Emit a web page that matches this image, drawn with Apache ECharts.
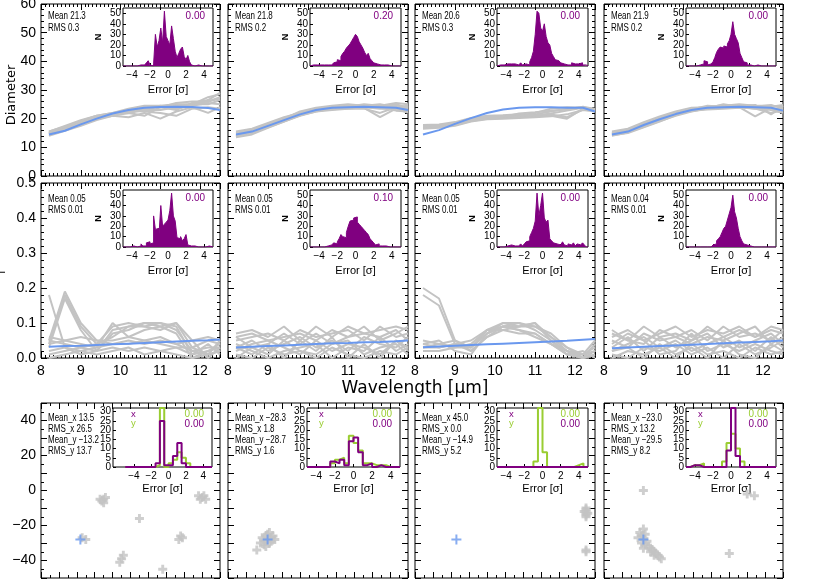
<!DOCTYPE html>
<html><head><meta charset="utf-8">
<script src="https://cdn.jsdelivr.net/npm/echarts@6/dist/echarts.min.js"></script>
<style>html,body{margin:0;padding:0;background:#fff}#c{width:817px;height:584px}</style>
</head><body><div id="c"></div>
<script>
// ---------------- DATA ----------------
const WAVELENGTH = [8.2,8.6,9.0,9.4,9.8,10.2,10.6,11.0,11.4,11.8,12.2,12.5];
const HIST_EDGES = [-5.0,-4.8,-4.6,-4.4,-4.2,-4.0,-3.8,-3.6,-3.4,-3.2,-3.0,-2.8,-2.6,-2.4,-2.2,-2.0,-1.8,-1.6,-1.4,-1.2,-1.0,-0.8,-0.6,-0.4,-0.2,0.0,0.2,0.4,0.6,0.8,1.0,1.2,1.4,1.6,1.8,2.0,2.2,2.4,2.6,2.8,3.0,3.2,3.4,3.6,3.8,4.0,4.2,4.4,4.6,4.8];
const POS_EDGES = [-5.0,-4.5,-4.0,-3.5,-3.0,-2.5,-2.0,-1.5,-1.0,-0.5,0.0,0.5,1.0,1.5,2.0,2.5,3.0,3.5,4.0,4.5];
const HIST_RIGHT = 5.0;

// Row 1: diameter
const DIAM_BLUE_1 = [14.5,15.8,18.0,20.0,21.8,23.0,23.8,24.1,24.2,24.1,23.7,23.0];
const DIAM_GREY_1 = [
 [14.8,16.5,18.5,20.5,21.5,22.5,23.5,24.0,24.5,25.0,26.0,27.0],
 [15.2,17.0,19.0,20.8,21.8,22.0,21.0,24.0,23.0,25.5,26.5,29.0],
 [14.5,16.0,18.0,20.0,21.0,20.5,22.0,20.0,22.5,24.0,22.0,24.0],
 [15.5,17.5,19.5,21.0,22.0,23.5,24.5,24.5,25.0,25.0,27.5,28.5],
 [14.0,15.8,17.5,19.5,21.0,22.0,23.0,23.0,24.0,25.0,25.0,26.5],
 [15.0,16.8,18.8,20.5,21.5,22.8,22.5,22.0,21.0,23.5,24.0,23.5],
 [14.8,16.5,18.5,20.3,21.2,22.2,23.2,24.5,23.5,24.5,25.5,25.0],
 [15.5,17.2,19.2,21.0,22.0,23.0,24.0,24.0,25.5,26.0,26.0,27.5]];
const DIAM_BLUE_2 = [14.5,15.5,17.5,19.5,21.5,23.0,23.8,24.0,24.2,24.0,23.8,23.0];
const DIAM_GREY_2 = [
 [14.0,15.0,17.0,19.0,21.0,22.5,23.5,23.5,24.0,23.5,23.5,22.5],
 [15.0,16.2,18.2,20.2,22.2,23.5,24.2,24.5,24.5,24.5,24.5,24.0],
 [13.5,14.5,16.8,19.0,21.2,23.0,23.5,24.0,23.8,20.5,23.5,22.0],
 [15.5,16.5,18.5,20.5,22.0,23.2,24.0,24.2,25.0,24.5,25.5,25.0],
 [14.2,15.8,17.8,19.8,21.8,22.8,23.2,23.8,24.0,23.8,22.8,22.5],
 [15.2,16.0,18.0,20.0,22.5,23.8,24.5,25.0,24.5,25.0,24.0,24.5],
 [14.8,15.2,17.2,19.2,21.2,22.5,23.0,23.5,23.5,22.0,24.0,23.5],
 [13.8,15.6,17.6,19.6,21.6,23.2,24.0,24.2,24.8,24.2,25.0,23.8]];
const DIAM_BLUE_3 = [14.5,16.0,18.2,20.2,22.0,23.2,23.8,24.0,24.0,23.8,23.8,22.5];
const DIAM_GREY_3 = [
 [17.0,17.2,18.0,19.5,20.2,20.5,20.5,20.8,21.0,20.0,23.5,23.0],
 [17.5,17.8,18.5,20.0,20.8,21.0,21.2,21.5,22.5,23.5,24.0,23.2],
 [16.8,17.0,17.8,19.2,20.0,20.2,20.5,21.0,21.8,22.8,23.8,23.5],
 [17.2,17.5,18.2,19.8,20.5,20.8,21.0,22.0,23.5,24.0,23.8,22.8],
 [17.8,18.0,18.8,20.2,21.0,21.2,21.5,21.2,21.5,20.5,23.2,23.0],
 [16.5,16.8,17.5,19.0,19.8,20.0,20.2,20.5,20.8,21.5,23.0,22.5],
 [17.4,17.6,18.4,19.6,20.4,20.6,21.8,22.2,22.8,23.2,24.2,23.4]];
const DIAM_BLUE_4 = [14.5,15.5,17.8,19.8,21.6,23.0,23.8,24.0,24.2,24.0,23.8,22.8];
const DIAM_GREY_4 = [
 [14.0,15.2,17.2,19.2,21.0,22.5,23.5,23.8,24.0,23.5,23.5,22.5],
 [15.0,16.0,18.5,20.5,22.2,23.5,24.2,24.5,25.0,24.5,24.5,24.0],
 [14.5,15.8,17.5,19.5,21.5,23.2,24.5,24.2,24.0,20.8,23.8,23.0],
 [15.5,16.5,18.8,20.8,22.5,23.8,24.0,24.8,24.5,24.8,21.5,24.5],
 [14.2,15.0,17.0,19.0,21.2,22.8,23.2,23.5,23.8,23.8,23.0,22.0],
 [15.2,16.2,18.2,20.2,22.0,23.2,24.0,24.2,24.5,24.2,24.8,23.5],
 [14.8,15.6,18.0,20.0,21.8,22.6,23.6,25.0,24.2,23.5,22.0,23.0],
 [14.4,15.4,17.6,19.6,21.4,23.0,23.8,24.0,24.8,24.0,24.2,24.8]];

// Row 2: f
const F_BLUE_1 = [0.032,0.034,0.035,0.037,0.039,0.041,0.043,0.045,0.047,0.049,0.051,0.053];
const F_GREY_1 = [
 [0.05,0.19,0.10,0.05,0.04,0.05,0.04,0.05,0.04,0.02,0.03,0.03],
 [0.18,0.03,0.02,0.03,0.04,0.04,0.05,0.04,0.03,0.03,0.05,0.04],
 [0.03,0.17,0.08,0.02,0.08,0.09,0.10,0.09,0.10,0.03,0.01,0.02],
 [0.05,0.04,0.03,0.04,0.09,0.10,0.09,0.08,0.10,0.05,0.00,0.03],
 [0.01,0.02,0.03,0.02,0.07,0.08,0.10,0.10,0.08,0.02,0.01,0.05],
 [0.04,0.05,0.04,0.03,0.10,0.06,0.08,0.09,0.07,0.00,0.02,0.04],
 [0.02,0.03,0.01,0.02,0.03,0.02,0.03,0.02,0.01,0.00,0.01,0.02],
 [0.06,0.05,0.06,0.05,0.05,0.06,0.05,0.06,0.04,0.05,0.06,0.05],
 [0.00,0.01,0.02,0.01,0.02,0.03,0.01,0.02,0.03,0.01,0.04,0.01],
 [0.04,0.18,0.09,0.04,0.06,0.09,0.09,0.10,0.09,0.01,0.02,0.03]];
const F_BLUE_2 = [0.030,0.032,0.034,0.036,0.038,0.040,0.042,0.043,0.045,0.046,0.048,0.050];
const F_GREY_2 = [
 [0.07,0.08,0.06,0.09,0.05,0.09,0.06,0.09,0.07,0.08,0.09,0.08],
 [0.03,0.05,0.02,0.04,0.06,0.03,0.05,0.02,0.06,0.04,0.03,0.06],
 [0.01,0.00,0.03,0.01,0.02,0.00,0.03,0.01,0.00,0.02,0.01,0.03],
 [0.05,0.06,0.07,0.05,0.08,0.06,0.07,0.08,0.05,0.09,0.06,0.07],
 [0.02,0.04,0.05,0.03,0.01,0.05,0.02,0.04,0.03,0.01,0.05,0.02],
 [0.06,0.03,0.04,0.07,0.04,0.07,0.04,0.06,0.09,0.05,0.07,0.09],
 [0.04,0.02,0.00,0.02,0.03,0.04,0.00,0.03,0.02,0.06,0.02,0.04],
 [0.00,0.03,0.01,0.05,0.02,0.01,0.04,0.05,0.01,0.03,0.04,0.01],
 [0.06,0.07,0.05,0.06,0.07,0.05,0.08,0.06,0.07,0.06,0.08,0.05],
 [0.03,0.01,0.04,0.00,0.05,0.02,0.06,0.00,0.04,0.00,0.05,0.03]];
const F_BLUE_3 = [0.031,0.033,0.035,0.037,0.039,0.041,0.043,0.045,0.047,0.049,0.052,0.054];
const F_GREY_3 = [
 [0.20,0.17,0.05,0.03,0.07,0.09,0.08,0.07,0.04,0.01,0.00,0.02],
 [0.18,0.15,0.04,0.02,0.06,0.08,0.09,0.10,0.05,0.02,0.01,0.05],
 [0.04,0.03,0.04,0.05,0.08,0.09,0.08,0.06,0.04,0.02,0.00,0.01],
 [0.03,0.04,0.03,0.03,0.07,0.10,0.10,0.08,0.05,0.01,0.01,0.03],
 [0.05,0.04,0.05,0.02,0.06,0.09,0.09,0.09,0.06,0.03,0.00,0.04],
 [0.02,0.02,0.03,0.04,0.08,0.08,0.07,0.07,0.04,0.01,0.02,0.00],
 [0.04,0.05,0.02,0.01,0.07,0.09,0.10,0.09,0.07,0.03,0.01,0.02],
 [0.03,0.03,0.04,0.03,0.08,0.10,0.09,0.10,0.06,0.02,0.00,0.01]];
const F_BLUE_4 = [0.028,0.030,0.032,0.034,0.036,0.038,0.040,0.042,0.044,0.046,0.048,0.050];
const F_GREY_4 = [
 [0.06,0.08,0.05,0.07,0.09,0.06,0.08,0.07,0.09,0.06,0.08,0.07],
 [0.02,0.04,0.06,0.03,0.05,0.02,0.04,0.06,0.03,0.05,0.07,0.04],
 [0.00,0.02,0.01,0.03,0.00,0.04,0.01,0.02,0.00,0.03,0.01,0.02],
 [0.05,0.03,0.07,0.05,0.06,0.08,0.05,0.09,0.06,0.07,0.05,0.08],
 [0.03,0.06,0.02,0.06,0.03,0.05,0.07,0.03,0.05,0.02,0.06,0.03],
 [0.07,0.05,0.04,0.08,0.06,0.04,0.06,0.05,0.07,0.09,0.04,0.06],
 [0.01,0.00,0.03,0.02,0.04,0.01,0.03,0.00,0.04,0.01,0.03,0.05],
 [0.04,0.07,0.05,0.01,0.02,0.07,0.02,0.04,0.02,0.04,0.02,0.01],
 [0.08,0.05,0.09,0.06,0.07,0.05,0.09,0.06,0.08,0.06,0.09,0.08],
 [0.02,0.03,0.00,0.04,0.01,0.03,0.00,0.05,0.01,0.00,0.04,0.02]];

// Error histograms (counts per 0.2-sigma bin)
const HIST_DIAM_1 = [0,0,0,0,0,0,0,0,0,1, 2,1,0,3,5,1,0,2,30,18, 24,36,22,52,28,24,20,38,26,14, 8,12,16,18,9,6,10,4,1,0, 0,1,0,0,0,0,0,0,0,0];
const HIST_DIAM_2 = [0,1,1,1,1,1,1,1,1,1, 2,1,2,3,4,6,5,9,12,14, 17,19,21,24,27,30,28,23,20,17, 13,10,12,7,5,3,2,1,1,1, 1,0,1,0,0,0,0,0,0,0];
const HIST_DIAM_3 = [0,1,1,1,0,2,1,2,1,2, 3,1,2,3,1,2,3,1,4,8, 14,30,52,50,36,33,40,28,22,20, 12,9,6,5,4,3,2,3,1,2, 1,3,2,1,2,1,3,1,1,0];
const HIST_DIAM_4 = [0,0,0,0,1,0,1,1,0,2, 5,4,1,2,1,4,8,13,16,18, 17,19,18,21,24,30,42,30,26,22, 12,8,4,3,1,1,1,0,0,1, 0,0,1,0,0,0,0,0,0,0];
const HIST_F_1 = [0,0,0,0,0,1,1,0,0,1, 3,1,1,4,5,3,4,30,17,18, 12,40,20,22,24,26,35,52,30,25, 9,8,10,6,8,12,2,1,0,1, 0,0,0,0,0,0,0,1,0,0];
const HIST_F_2 = [0,0,0,0,0,0,0,0,0,1, 1,2,3,4,3,5,8,12,10,9, 14,20,25,26,28,29,24,22,20,18, 16,14,12,8,6,4,2,3,1,1, 2,1,0,0,0,0,0,0,0,0];
const HIST_F_3 = [0,0,0,0,0,1,1,2,1,1, 2,1,2,3,1,3,5,6,10,14, 18,25,52,30,40,52,28,24,26,8, 6,4,3,2,2,1,5,2,1,3, 2,1,4,1,3,2,1,4,2,0];
const HIST_F_4 = [0,0,0,0,0,0,0,0,0,0, 0,0,0,0,1,2,3,6,8,10, 14,18,20,26,32,38,50,34,28,18, 10,6,3,2,1,1,0,0,0,0, 0,0,0,0,0,0,0,0,0,0];
// Position error histograms (0.5-sigma bins)
const HIST_POSX_1 = [0,0,0,0,0,0,0,2,25,1,1,6,13,2,0,0,0,0,0,0];
const HIST_POSY_1 = [0,0,0,0,0,0,0,1,32,0,2,4,8,5,2,0,0,0,0,0];
const HIST_POSX_2 = [0,0,0,0,0,3,2,4,1,14,16,8,1,2,0,1,0,0,0,0];
const HIST_POSY_2 = [0,0,0,0,0,2,4,5,2,17,13,9,2,2,1,1,1,0,0,0];
const HIST_POSX_3 = [0,0,0,0,0,0,0,0,0,0,0,0,0,0,0,0,0,0,0,0];
const HIST_POSY_3 = [0,0,0,0,0,0,0,0,3,32,8,0,0,0,0,0,0,1,2,0];
const HIST_POSX_4 = [0,1,1,0,0,0,0,0,0,9,32,6,0,0,0,0,0,0,0,0];
const HIST_POSY_4 = [0,1,1,2,0,0,0,0,3,13,18,10,3,0,0,0,0,0,0,0];

// Row 3: fitted positions [x, y]
const POS_GREY_1 = [[-15,-5],[-16,-6],[-14,-4],[-15,-7],[-17,-5],[5,-16],[28,-26],[29,-27],[27,-28],[38,-3],[40,-4],[39,-5],[41,-3],[42,-5],[-4,-37],[-5,-39],[-6,-41],[18,-45],[-25,-28],[-27,-27]];
const POS_GREY_2 = [[-28,-28],[-26,-27],[-30,-29],[-29,-26],[-27,-30],[-25,-26],[-31,-27],[-28,-25],[-26,-29],[-30,-31],[-24,-28],[-32,-30],[-29,-32],[-34,-34],[-27,-24]];
const POS_GREY_3 = [[45,-10],[45,-11],[45,-12],[45,-13],[45,-14],[45,-15],[44,-12],[46,-13],[45,-34],[45,-35]];
const POS_GREY_4 = [[-28,0],[30,-2],[34,-3],[20,-36],[-28,-22],[-30,-24],[-29,-26],[-27,-25],[-31,-27],[-28,-28],[-26,-29],[-29,-30],[-27,-31],[-25,-32],[-24,-33],[-23,-34],[-22,-35],[-21,-36],[-20,-37],[-19,-38],[-22,-37],[-18,-39],[-24,-35],[-28,-33]];
const POS_TRUE = [[-28,-28],[-28,-28],[-27,-28],[-28,-28]];

// Texts
const STATS_ROW1 = [["Mean 21.3","RMS 0.3"],["Mean 21.8","RMS 0.2"],["Mean 20.6","RMS 0.3"],["Mean 21.9","RMS 0.2"]];
const STATS_ROW2 = [["Mean 0.05","RMS 0.01"],["Mean 0.05","RMS 0.01"],["Mean 0.05","RMS 0.01"],["Mean 0.04","RMS 0.01"]];
const STATS_ROW3 = [["Mean_x 13.5","RMS_x 26.5","Mean_y −13.2","RMS_y 13.7"],["Mean_x −28.3","RMS_x 1.8","Mean_y −28.7","RMS_y 1.6"],["Mean_x 45.0","RMS_x 0.0","Mean_y −14.9","RMS_y 5.2"],["Mean_x −23.0","RMS_x 13.2","Mean_y −29.5","RMS_y 8.2"]];
const INSET_VAL_ROW1 = ["0.00","0.20","0.00","0.00"];
const INSET_VAL_ROW2 = ["0.00","0.10","0.00","0.00"];
const INSET_VAL_ROW3 = [["0.00","0.00"],["0.00","0.00"],["0.00","0.00"],["0.00","0.00"]];
const X_TICKS_MAIN = [8,9,10,11,12];
const INSET_X_TICKS = [-4,-2,0,2,4];
const INSET_Y_TICKS = [0,10,20,30,40,50];
const INSET_Y_TICKS_POS = [0,5,10,15,20,25,30];
const INSET_Y_LABELS_POS_A = [0,10,20,30];
const INSET_Y_LABELS_POS_B = [5,15,25];
const POS_Y_TICKS = [-40,-20,0,20,40];

// ---------------- BUILD ----------------
const GREY = '#c3c3c3', BLUE = '#6a98ee', PURPLE = '#800080', GREEN = '#9acd32';
const F_MAIN = "'Liberation Sans', Arial, sans-serif";
const F_SMALL = "'Liberation Sans', Arial, sans-serif";
const cols = [{l:41,w:179},{l:228,w:180},{l:415,w:180},{l:604,w:179}];
const rows = [{t:4,h:172},{t:183,h:175},{t:403,h:175}];
const grid=[], xAxis=[], yAxis=[], series=[], graphic=[];
const minus = v => String(v).replace('-', '\u2212');
const PLUS_GREY = 'path://M3.4,0H6.6V3.4H10V6.6H6.6V10H3.4V6.6H0V3.4H3.4Z';
const PLUS_BLUE = 'path://M4,0H6V4H10V6H6V10H4V6H0V4H4Z';

function addGrid(b, bg){
  grid.push({left:b.l, top:b.t, width:b.w, height:b.h, show:true, borderColor:'#000', borderWidth:1,
    backgroundColor:bg||'transparent', containLabel:false, outerBoundsMode:'none'});
  return grid.length-1;
}
function ax(extra){
  return Object.assign({type:'value', axisLine:{show:false,onZero:false}, splitLine:{show:false}, silent:true}, extra);
}
function mainPanel(r,c){
  const gi = addGrid({l:cols[c].l, t:rows[r].t, w:cols[c].w, h:rows[r].h});
  const xr = r<2 ? {min:8,max:12.5,interval:1,minor:10} : {min:-50,max:50,interval:10,minor:2};
  const yr = r===0 ? {min:0,max:60,interval:10,minor:5} : r===1 ? {min:0,max:0.5,interval:0.1,minor:5} : {min:-50,max:50,interval:10,minor:2};
  const tick = {inside:true,length:6,lineStyle:{color:'#000',width:1}};
  const mtick = n => ({show:true,splitNumber:n,length:3,lineStyle:{color:'#000',width:1}});
  const xi = xAxis.length, yi = yAxis.length;
  xAxis.push(ax({gridIndex:gi,position:'bottom',min:xr.min,max:xr.max,interval:xr.interval,axisTick:tick,minorTick:mtick(xr.minor),
    axisLabel:{show:r===1,hideOverlap:false,fontSize:14,fontFamily:F_MAIN,color:'#000',margin:6,
      formatter:v => X_TICKS_MAIN.includes(v) ? String(v) : ''}}));
  xAxis.push(ax({gridIndex:gi,position:'top',min:xr.min,max:xr.max,interval:xr.interval,axisTick:tick,minorTick:mtick(xr.minor),axisLabel:{show:false}}));
  const yl = {show:c===0,hideOverlap:false,showMinLabel:true,showMaxLabel:true,fontSize:14,fontFamily:F_MAIN,color:'#000',margin:5};
  if(r===1) yl.formatter = v => v.toFixed(1);
  if(r===2){ yl.customValues = POS_Y_TICKS; yl.formatter = v => minus(v); }
  yAxis.push(ax({gridIndex:gi,position:'left',min:yr.min,max:yr.max,interval:yr.interval,axisTick:tick,minorTick:mtick(yr.minor),axisLabel:yl}));
  yAxis.push(ax({gridIndex:gi,position:'right',min:yr.min,max:yr.max,interval:yr.interval,axisTick:tick,minorTick:mtick(yr.minor),axisLabel:{show:false}}));
  return {xi, yi};
}
function insetPanel(box, xmin, ymax, yTicks, labelSets, withN, gap){
  const gi = addGrid(box, '#fff');
  const xi = xAxis.length, yi = yAxis.length;
  xAxis.push(ax({gridIndex:gi,position:'bottom',min:xmin,max:5,
    axisTick:{inside:true,length:3,customValues:INSET_X_TICKS,lineStyle:{color:'#000'}},
    axisLabel:{customValues:INSET_X_TICKS,formatter:v=>minus(v),fontSize:10,fontFamily:F_SMALL,color:'#000',margin:4,hideOverlap:false,showMinLabel:true,showMaxLabel:true},
    name:'Error [\u03c3]',nameLocation:'middle',nameGap:gap,nameTextStyle:{fontSize:11,fontFamily:F_SMALL,color:'#000'}}));
  labelSets.forEach((labels,k)=>{
    yAxis.push(ax({gridIndex:gi,position:'left',offset:0,min:0,max:ymax,
      axisTick:{show:k===0,inside:true,length:3,customValues:yTicks,lineStyle:{color:'#000'}},
      axisLabel:{customValues:labels,fontSize:10,fontFamily:F_SMALL,color:'#000',margin:2,hideOverlap:false,showMinLabel:true,showMaxLabel:true},
      name:(withN&&k===0)?'N':'',nameLocation:'middle',nameGap:20,nameRotate:90,nameTextStyle:{fontSize:9,fontFamily:F_SMALL,color:'#000',fontWeight:'bold'}}));
  });
  return {xi, yi};
}
function lineSeries(a, xs, ys, color, width, z){
  series.push({type:'line',xAxisIndex:a.xi,yAxisIndex:a.yi,data:xs.map((x,i)=>[x,ys[i]]),symbol:'none',
    lineStyle:{color,width},silent:true,animation:false,z,clip:true});
}
function histSeries(a, edges, counts, color, filled){
  const d = edges.map((e,i)=>[e,counts[i]]);
  d.push([HIST_RIGHT, counts[counts.length-1]]);
  const s = {type:'line',step:'end',xAxisIndex:a.xi,yAxisIndex:a.yi,data:d,symbol:'none',
    lineStyle:{color,width:filled?1:2},silent:true,animation:false,z:3,clip:true};
  if(filled) s.areaStyle = {color, opacity:1};
  series.push(s);
}
function txt(x,y,text,opt){
  graphic.push({type:'text',x,y,silent:true,rotation:opt.rot||0,scaleX:opt.sx||1,z:100,
    style:{text,fill:opt.color||'#000',fontSize:opt.size||9,fontFamily:opt.font||F_SMALL,fontWeight:opt.weight||'normal',
      textAlign:opt.align||'left',verticalAlign:'middle',textVerticalAlign:'middle'}});
}

const DIAM_BLUE=[DIAM_BLUE_1,DIAM_BLUE_2,DIAM_BLUE_3,DIAM_BLUE_4], DIAM_GREY=[DIAM_GREY_1,DIAM_GREY_2,DIAM_GREY_3,DIAM_GREY_4];
const F_BLUE=[F_BLUE_1,F_BLUE_2,F_BLUE_3,F_BLUE_4], F_GREY=[F_GREY_1,F_GREY_2,F_GREY_3,F_GREY_4];
const HIST_DIAM=[HIST_DIAM_1,HIST_DIAM_2,HIST_DIAM_3,HIST_DIAM_4], HIST_F=[HIST_F_1,HIST_F_2,HIST_F_3,HIST_F_4];
const HIST_POSX=[HIST_POSX_1,HIST_POSX_2,HIST_POSX_3,HIST_POSX_4], HIST_POSY=[HIST_POSY_1,HIST_POSY_2,HIST_POSY_3,HIST_POSY_4];
const POS_GREY=[POS_GREY_1,POS_GREY_2,POS_GREY_3,POS_GREY_4];
const SX = 0.8;

for(let c=0;c<4;c++){
  // Row 1 and 2
  [[DIAM_GREY,DIAM_BLUE,HIST_DIAM,STATS_ROW1,INSET_VAL_ROW1],[F_GREY,F_BLUE,HIST_F,STATS_ROW2,INSET_VAL_ROW2]].forEach((set,r)=>{
    const a = mainPanel(r,c);
    set[0][c].forEach(g=>lineSeries(a, WAVELENGTH, g, GREY, 2, 2));
    lineSeries(a, WAVELENGTH, set[1][c], BLUE, 2, 4);
    const box = {l:cols[c].l+82, w:cols[c].w-89, t:rows[r].t+(r===0?4:7), h:r===0?58:57};
    const ia = insetPanel(box, -5, 55, INSET_Y_TICKS, [INSET_Y_TICKS], true, 18);
    histSeries(ia, HIST_EDGES, set[2][c], PURPLE, true);
    const off = r===0 ? [12,24] : [16,27];
    txt(cols[c].l+7, rows[r].t+off[0], set[3][c][0], {size:10, sx:SX});
    txt(cols[c].l+7, rows[r].t+off[1], set[3][c][1], {size:10, sx:SX});
    txt(box.l+box.w-8, box.t+8, set[4][c], {size:10.5, color:PURPLE, align:'right', sx:0.95});
  });
  // Row 3
  const a = mainPanel(2,c);
  series.push({type:'scatter',xAxisIndex:a.xi,yAxisIndex:a.yi,data:POS_GREY[c],symbol:PLUS_GREY,symbolSize:9,
    itemStyle:{color:GREY},silent:true,animation:false,z:2});
  series.push({type:'scatter',xAxisIndex:a.xi,yAxisIndex:a.yi,data:[POS_TRUE[c]],symbol:PLUS_BLUE,symbolSize:10,
    itemStyle:{color:BLUE},silent:true,animation:false,z:4});
  const boxes3 = [{l:113,w:99},{l:307,w:93},{l:497,w:91},{l:686,w:90}];
  const box = {l:boxes3[c].l, w:boxes3[c].w, t:408, h:59};
  const ia = insetPanel(box, c===0?-6.4:-5, 32, INSET_Y_TICKS_POS, [INSET_Y_LABELS_POS_A, INSET_Y_LABELS_POS_B], false, 16);
  histSeries(ia, POS_EDGES, HIST_POSY[c], GREEN, false);
  histSeries(ia, POS_EDGES, HIST_POSX[c], PURPLE, false);
  STATS_ROW3[c].forEach((s,k)=>txt(cols[c].l+7, 418+11*k, s, {size:10, sx:SX}));
  const lx = box.l + (c===0?18:12);
  txt(lx, 414, 'x', {size:9.5, color:PURPLE});
  txt(lx, 423, 'y', {size:9.5, color:GREEN});
  txt(box.l+box.w-8, 414, INSET_VAL_ROW3[c][0], {size:10.5, color:GREEN, align:'right', sx:0.95});
  txt(box.l+box.w-8, 424, INSET_VAL_ROW3[c][1], {size:10.5, color:PURPLE, align:'right', sx:0.95});
}
// axis titles
txt(12, 95, 'Diameter', {rot:Math.PI/2, size:13, font:"'DejaVu Sans', sans-serif", align:'center'});
txt(2, 272, 'f', {rot:Math.PI/2, size:13, font:"'DejaVu Sans', sans-serif", align:'center'});
txt(415, 389, 'Wavelength [\u03bcm]', {size:17, font:"'DejaVu Sans', sans-serif", align:'center'});

const chart = echarts.init(document.getElementById('c'), null, {renderer:'canvas'});
chart.setOption({animation:false, backgroundColor:'#fff', grid, xAxis, yAxis, series, graphic});
</script>
</body></html>
